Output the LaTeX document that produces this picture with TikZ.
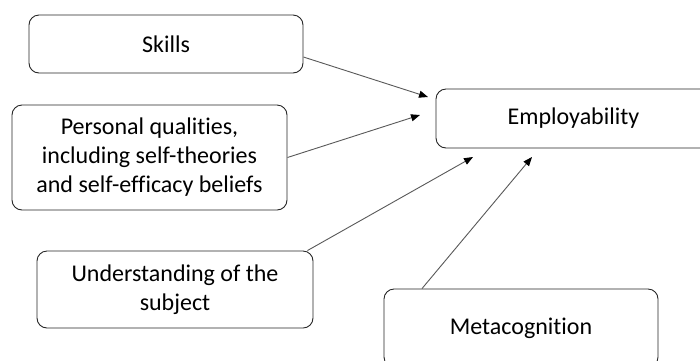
\documentclass[tikz,border=0pt]{standalone}
\usepackage{fontspec}
\setmainfont[RawFeature={-liga}]{Carlito}
\usetikzlibrary{arrows.meta}
\begin{document}
\begin{tikzpicture}[x=1pt,y=-1pt,
  box/.style={draw=black!85,line width=0.9pt,rounded corners=10pt,align=center,
    font=\fontsize{24}{29}\selectfont,inner sep=0pt},
  arr/.style={draw=black!65,line width=0.9pt,-{Triangle[length=9pt,width=7pt,color=black]}}]
\useasboundingbox[fill=white] (0,0) rectangle (700,360);
\clip (0,0) rectangle (700,360);
\node[box,minimum width=274pt,minimum height=58pt] (skills) at (166,44) {Skills};
\node[box,minimum width=275pt,minimum height=105pt] (pers) at (149.5,157.5)
  {Personal qualities,\\including self-theories\\and self-efficacy beliefs};
\node[box,minimum width=275pt,minimum height=59pt] (emp) at (573.5,118.5) {Employability};
\node[box,minimum width=276pt,minimum height=77pt] (und) at (175,289.5)
  {Understanding of the\\subject};
\node[box,minimum width=274pt,minimum height=78pt] (meta) at (521,328) {Metacognition};
\coordinate (t1) at (428,97);
\coordinate (t2) at (420,115);
\coordinate (t3) at (473,157);
\coordinate (t4) at (532,157);
\draw[arr] ([yshift=-13pt]skills.east) -- (t1);
\draw[arr] (pers.east) -- (t2);
\draw[arr] ([xshift=-6pt]und.north east) -- (t3);
\draw[arr] ([xshift=-99pt]meta.north) -- (t4);
\end{tikzpicture}
\end{document}
